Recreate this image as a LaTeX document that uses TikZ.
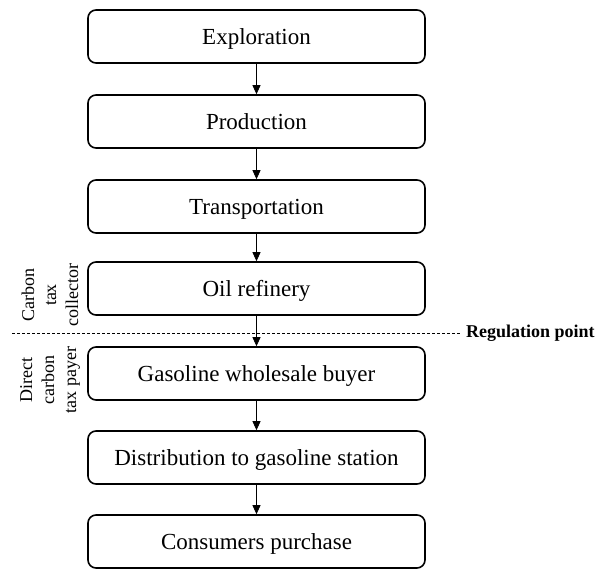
\documentclass[tikz,border=0pt]{standalone}
\usepackage{fontspec}
\setmainfont{Liberation Serif}
\usetikzlibrary{arrows.meta}
\begin{document}
\begin{tikzpicture}[x=1pt,y=-1pt,
  stage/.style={draw=black,line width=1.6pt,rounded corners=8pt,minimum width=337pt,minimum height=53pt,inner sep=0pt,text depth=0pt,font=\fontsize{23}{26}\selectfont},
  flow/.style={-{Triangle[width=8pt,length=9pt]},line width=0.8pt},
  side/.style={rotate=90,align=center,font=\fontsize{18}{22}\selectfont,inner sep=0pt},
  reg/.style={font=\bfseries\fontsize{18}{20}\selectfont,anchor=west,inner sep=0pt}]
\useasboundingbox (0,0) rectangle (598,570);
\node[stage] (n1) at (256.5,36.5) {Exploration};
\node[stage] (n2) at (256.5,121.5) {Production};
\node[stage] (n3) at (256.5,206.5) {Transportation};
\node[stage] (n4) at (256.5,288.5) {Oil refinery};
\node[stage] (n5) at (256.5,373.5) {Gasoline wholesale buyer};
\node[stage] (n6) at (256.5,457.5) {Distribution to gasoline station};
\node[stage] (n7) at (256.5,541.5) {Consumers purchase};
\foreach \a/\b in {n1/n2,n2/n3,n3/n4,n4/n5,n5/n6,n6/n7}
  \draw[flow] (\a) -- (\b);
\coordinate (dl) at (12,333);
\node[reg] (rp) at (466,333) {Regulation point};
\draw[dashed,line width=0.7pt,dash pattern=on 3pt off 2pt] (dl) -- ([xshift=-6pt]rp.west);
\node[side] (c1) at (50,295) {Carbon\\tax\\collector};
\node[side] (c2) at (50,380) {Direct\\carbon\\tax payer};
\end{tikzpicture}
\end{document}
